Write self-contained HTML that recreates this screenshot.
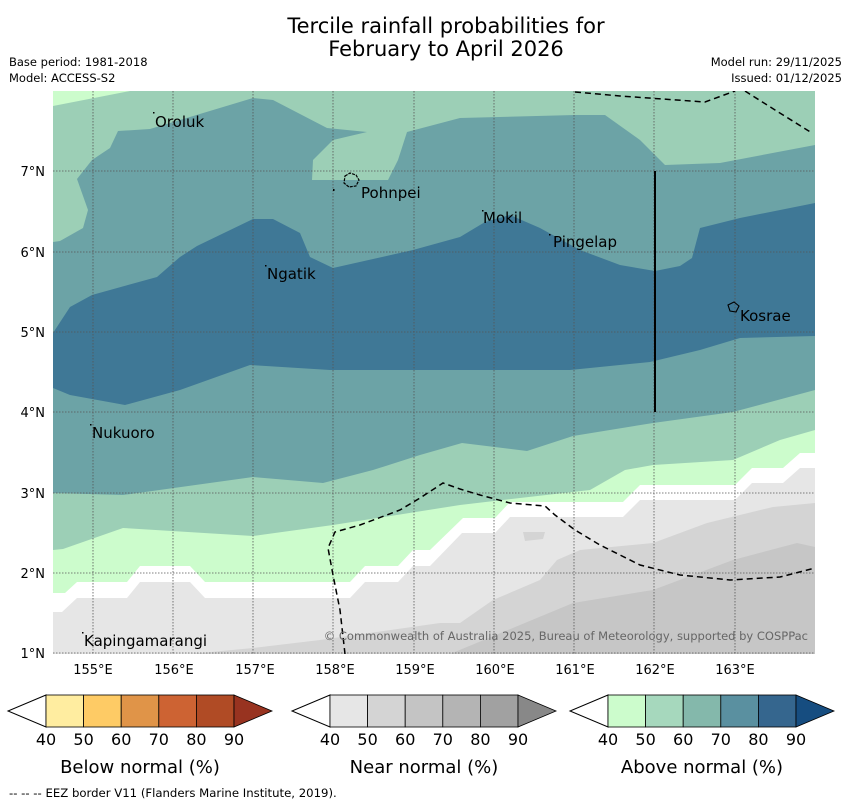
<!DOCTYPE html>
<html><head><meta charset="utf-8"><style>
body{margin:0;background:#fff;}
svg text{font-family:"DejaVu Sans","Liberation Sans",sans-serif;}
</style></head><body>
<svg width="850" height="804" viewBox="0 0 850 804" xmlns="http://www.w3.org/2000/svg">
<text x="446" y="33" font-size="21" text-anchor="middle">Tercile rainfall probabilities for</text>
<text x="446" y="56" font-size="21" text-anchor="middle">February to April 2026</text>
<text x="9" y="66" font-size="11.5">Base period: 1981-2018</text>
<text x="9" y="82" font-size="11.5">Model: ACCESS-S2</text>
<text x="842" y="66" font-size="11.5" text-anchor="end">Model run: 29/11/2025</text>
<text x="842" y="82" font-size="11.5" text-anchor="end">Issued: 01/12/2025</text>
<defs><clipPath id="mc"><rect x="53" y="91" width="762" height="563"/></clipPath></defs>
<g clip-path="url(#mc)">
<rect x="53" y="91" width="762" height="563" fill="#9ccfb6"/>
<polygon fill="#ccfccc" points="53,91 130,91 53,106"/>
<polygon fill="#6ca3a6" points="53,242 60,241 83,228 88,210 77,179 92,160 110,148 118,131 150,129 253,98 273,100 327,128 367,132 333,140 313,160 312,180 388,180 398,160 407,132 460,118 575,115 605,115 640,140 665,165 720,163 815,145 815,390 733,412 653,423 573,436 527,451 462,443 420,455 373,470 323,483 253,477 123,495 53,493"/>
<polygon fill="#3f7896" points="53,333 70,307 92,295 157,277 180,257 197,246 253,219 273,219 300,233 310,257 333,268 413,250 460,237 485,222 510,215 540,228 580,250 620,265 655,271 680,266 692,258 700,228 740,218 815,203 815,336 740,338 700,350 650,362 570,370 400,370 330,370 250,365 180,390 125,405 70,395 53,388"/>
<polygon fill="#ccfccc" points="53,550 63,549 123,528 253,536 333,525 460,505 520,498 590,490 625,470 653,465 733,460 780,440 815,430 815,654 53,654"/>
<polygon fill="#ffffff" points="53,593 65,593 77,582 127,582 140,566 190,566 205,582 350,582 365,566 398,566 413,550 430,550 463,518 495,518 510,502 623,502 640,485 735,485 752,468 783,468 800,453 815,453 815,654 53,654"/>
<polygon fill="#e6e6e6" points="53,612 62,612 77,598 127,598 140,582 190,582 205,598 350,598 365,582 398,582 413,566 430,566 462,533 495,533 510,517 623,517 640,500 735,500 752,483 783,483 800,468 815,468 815,654 53,654"/>
<polygon fill="#d4d4d4" points="190,654 253,648 320,640 440,623 460,623 493,600 540,580 557,560 580,550 653,543 707,523 773,507 815,503 815,654"/>
<polygon fill="#d4d4d4" points="523,532 545,532 543,539 525,541"/>
<polygon fill="#c6c6c6" points="450,654 520,625 573,603 653,590 733,560 797,543 815,547 815,654"/>
<g stroke="#555" stroke-width="0.8" stroke-dasharray="1.5,1.5" fill="none">
<line x1="93" y1="91" x2="93" y2="654"/><line x1="173" y1="91" x2="173" y2="654"/><line x1="253" y1="91" x2="253" y2="654"/><line x1="333" y1="91" x2="333" y2="654"/><line x1="414" y1="91" x2="414" y2="654"/><line x1="494" y1="91" x2="494" y2="654"/><line x1="574" y1="91" x2="574" y2="654"/><line x1="654" y1="91" x2="654" y2="654"/><line x1="735" y1="91" x2="735" y2="654"/>
<line x1="53" y1="171" x2="815" y2="171"/><line x1="53" y1="252" x2="815" y2="252"/><line x1="53" y1="332" x2="815" y2="332"/><line x1="53" y1="412" x2="815" y2="412"/><line x1="53" y1="493" x2="815" y2="493"/><line x1="53" y1="573" x2="815" y2="573"/><line x1="53" y1="653" x2="815" y2="653"/>
</g>
<g stroke="#000" stroke-width="1.5" stroke-dasharray="6,4" fill="none">
<polyline points="575,92 620,96 705,102 735,91"/>
<polyline points="745,91 775,110 812,133"/>
<polyline points="345,654 340,610 333,575 328,548 335,532 360,525 400,510 420,498 443,483 460,489 480,495 510,503 545,506 555,515 575,530 600,545 640,565 680,575 730,580 780,577 815,568"/>
</g>
<line x1="655" y1="171" x2="655" y2="412" stroke="#000" stroke-width="2"/>
<path d="M345,176 L350,173 L356,175 L359,180 L356,186 L349,187 L344,183 Z" fill="none" stroke="#000" stroke-width="1.2" stroke-dasharray="3,1"/>
<path d="M728,305 L734,302 L739,306 L736,312 L730,311 Z" fill="none" stroke="#000" stroke-width="1.1"/>
<g fill="#000">
<rect x="153" y="112" width="1.5" height="1.5"/><rect x="482" y="210" width="1.5" height="1.5"/><rect x="549" y="234" width="1.5" height="1.5"/><rect x="265" y="265" width="1.5" height="1.5"/><rect x="90" y="424" width="1.5" height="1.5"/><rect x="82" y="632" width="1.5" height="1.5"/><rect x="333" y="189" width="1.5" height="2"/>
</g>
<g font-size="15" fill="#000">
<text x="155" y="127">Oroluk</text>
<text x="361" y="198">Pohnpei</text>
<text x="483" y="223">Mokil</text>
<text x="553" y="247">Pingelap</text>
<text x="267" y="279">Ngatik</text>
<text x="740" y="321">Kosrae</text>
<text x="92" y="438">Nukuoro</text>
<text x="84" y="646">Kapingamarangi</text>
</g>
<text x="808" y="640" font-size="11.5" fill="#666" text-anchor="end">© Commonwealth of Australia 2025, Bureau of Meteorology, supported by COSPPac</text>
</g>
<g font-size="13" fill="#000" text-anchor="end">
<text x="45" y="176">7°N</text><text x="45" y="257">6°N</text><text x="45" y="337">5°N</text><text x="45" y="417">4°N</text><text x="45" y="498">3°N</text><text x="45" y="578">2°N</text><text x="45" y="658">1°N</text>
</g>
<g font-size="13" fill="#000" text-anchor="middle">
<text x="93" y="674">155°E</text><text x="174" y="674">156°E</text><text x="255" y="674">157°E</text><text x="335" y="674">158°E</text><text x="415" y="674">159°E</text><text x="495" y="674">160°E</text><text x="575" y="674">161°E</text><text x="655" y="674">162°E</text><text x="735" y="674">163°E</text>
</g>
<g id="cbs"></g>
<text x="9" y="797" font-size="11.7">--  --  -- EEZ border V11 (Flanders Marine Institute, 2019).</text>
</svg>
<script>
const cbStarts=[46,330,608];
const cbTitles=["Below normal (%)","Near normal (%)","Above normal (%)"];
const cbNames=["below","near","above"];
const cbColors=[["#ffeda0","#fecb65","#e09448","#cd6333","#b04b25","#983320"],["#e6e6e6","#d4d4d4","#c4c4c4","#b4b4b4","#a1a1a1","#888888"],["#ccfccc","#a6d8bd","#84b8ab","#5a90a0","#35668e","#164d80"]];
const cbTicks=[40,50,60,70,80,90];
const NS="http://www.w3.org/2000/svg";
const g=document.getElementById('cbs');
cbStarts.forEach((x0,i)=>{
  const w=37.6,y0=695,h=32,ym=711;
  const grp=document.createElementNS(NS,'g');
  
  
  const lt=document.createElementNS(NS,'polygon');
  lt.setAttribute('points',`${x0},${y0} ${x0-38},${ym} ${x0},${y0+h}`);
  lt.setAttribute('fill','#fff');lt.setAttribute('stroke','#000');lt.setAttribute('stroke-width','1');
  
  
  grp.appendChild(lt);
  for(let k=0;k<5;k++){
    const r=document.createElementNS(NS,'rect');
    r.setAttribute('x',x0+k*w);r.setAttribute('y',y0);r.setAttribute('width',w);r.setAttribute('height',h);
    r.setAttribute('fill',cbColors[i][k]);r.setAttribute('stroke','#000');r.setAttribute('stroke-width','0.8');
    
    
    grp.appendChild(r);
  }
  const rt=document.createElementNS(NS,'polygon');
  const xe=x0+5*w;
  rt.setAttribute('points',`${xe},${y0} ${xe+38},${ym} ${xe},${y0+h}`);
  rt.setAttribute('fill',cbColors[i][5]);rt.setAttribute('stroke','#000');rt.setAttribute('stroke-width','0.8');
  
  
  grp.appendChild(rt);
  cbTicks.forEach((t,k)=>{
    const tx=document.createElementNS(NS,'text');
    tx.setAttribute('x',x0+k*w);tx.setAttribute('y',745);tx.setAttribute('font-size','16');tx.setAttribute('text-anchor','middle');
    tx.textContent=t;
    
    
    grp.appendChild(tx);
  });
  const tt=document.createElementNS(NS,'text');
  tt.setAttribute('x',x0+2.5*w);tt.setAttribute('y',773);tt.setAttribute('font-size','18');tt.setAttribute('text-anchor','middle');
  tt.textContent=cbTitles[i];
  
  
  grp.appendChild(tt);
  g.appendChild(grp);
});
</script>
</body></html>
